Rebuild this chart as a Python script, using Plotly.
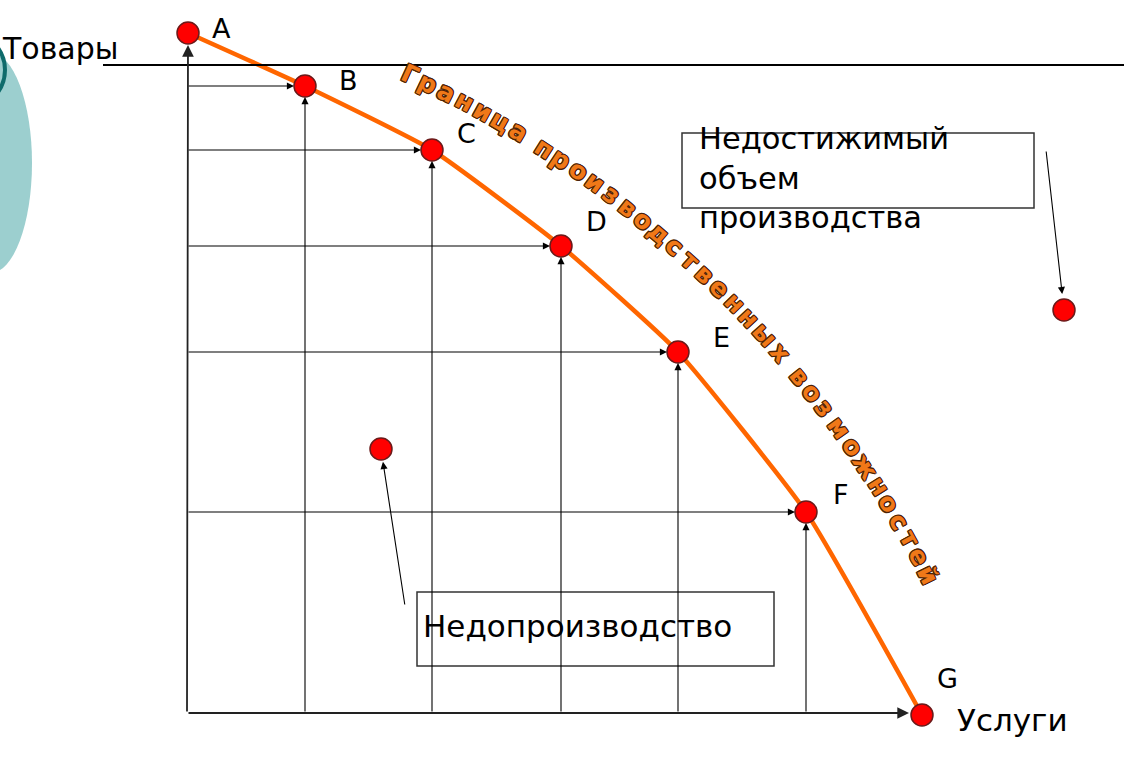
import numpy as np
import plotly.graph_objects as go

# ---------------- data ----------------
point_names = ["A", "B", "C", "D", "E", "F", "G"]
services = [0.1, 11.8, 24.5, 37.4, 49.1, 61.9, 73.5]     # Услуги
goods = [68.0, 62.7, 56.3, 46.7, 36.1, 20.1, -0.2]       # Товары

under_services = [19.4]   # Недопроизводство
under_goods = [26.4]
over_services = [87.7]    # Недостижимый объем производства
over_goods = [40.3]

x_label = "Услуги"
y_label = "Товары"
frontier_title = "Граница производственных возможностей"
under_label = "Недопроизводство"
over_label = "Недостижимый<br>объем<br>производства"

# ---------------- layout helpers ----------------
W, H = 1144, 768
FONT = "DejaVu Sans"


def px(xp):
    return xp / W


def py(yp):
    return 1 - yp / H


fig = go.Figure()

# frontier curve
fig.add_trace(go.Scatter(
    x=services, y=goods, mode="lines",
    line=dict(color="#FF6600", width=4.5, shape="spline", smoothing=0.45),
    hoverinfo="skip", showlegend=False))

# points
fig.add_trace(go.Scatter(
    x=services + under_services + over_services,
    y=goods + under_goods + over_goods,
    mode="markers",
    marker=dict(size=22, color="#FF0000", line=dict(color="#6B1A1A", width=1.5)),
    showlegend=False))

ann = []
arrow_style = dict(showarrow=True, arrowhead=2, arrowsize=1.3, arrowwidth=1.1,
                   arrowcolor="#000000", axref="x", ayref="y", xref="x", yref="y", text="")

# guide arrows from the axes to each point
for i in range(1, len(services) - 1):
    ann.append(dict(x=services[i], y=goods[i], ax=0, ay=goods[i], standoff=11, **arrow_style))
    ann.append(dict(x=services[i], y=goods[i], ax=services[i], ay=0, standoff=11, **arrow_style))

axis_style = dict(arrow_style)
axis_style.update(arrowwidth=1.8, arrowcolor="#222222")
ann.append(dict(x=services[0], y=goods[0], ax=0, ay=0, standoff=12, **axis_style))
ann.append(dict(x=services[-1], y=0, ax=0, ay=0, standoff=13, **axis_style))

# pointer arrows from the text boxes
ann.append(dict(x=under_services[0], y=under_goods[0], ax=21.8, ay=10.7, standoff=13, **arrow_style))
ann.append(dict(x=over_services[0], y=over_goods[0], ax=85.9, ay=56.3, standoff=16, **arrow_style))

# point letters
label_dx = [33, 43, 34, 35, 43, 35, 25]
label_dy = [5, 6, 17, 25, 15, 18, 37]
for name, xs, ys, dx, dy in zip(point_names, services, goods, label_dx, label_dy):
    ann.append(dict(x=xs, y=ys, xref="x", yref="y", text=name, showarrow=False,
                    xshift=dx, yshift=dy, font=dict(family=FONT, size=27, color="#000000")))

# axis titles
ann.append(dict(x=px(0), y=py(48), xref="paper", yref="paper", xanchor="left", yanchor="middle",
                text=y_label, showarrow=False, font=dict(family=FONT, size=30, color="#000000")))
ann.append(dict(x=px(955), y=py(720), xref="paper", yref="paper", xanchor="left", yanchor="middle",
                text=x_label, showarrow=False, font=dict(family=FONT, size=31, color="#000000")))

# box texts
ann.append(dict(x=px(421), y=py(626), xref="paper", yref="paper", xanchor="left", yanchor="middle",
                text=under_label, showarrow=False, font=dict(family=FONT, size=31, color="#000000")))
ann.append(dict(x=px(697), y=py(178), xref="paper", yref="paper", xanchor="left", yanchor="middle",
                align="left", text=over_label, showarrow=False,
                font=dict(family=FONT, size=30.5, color="#000000")))

# curved WordArt title along an arc
cx, cy, r = -42.0, 1061.0, 1085.0
th_s, th_e = np.radians(-65.4), np.radians(-26.6)
wts = np.array([0.5 if c == " " else (1.3 if c in "жмыщш" else 1.0) for c in frontier_title])
cum = np.cumsum(wts) - wts / 2
cum = (cum - cum[0]) / (cum[-1] - cum[0])
outline = "#4A2208"
shadow = ", ".join(f"{a}px {b}px 0.5px {outline}" for a in (-1, 0, 1) for b in (-1, 0, 1) if a or b)
for ch, t in zip(frontier_title, cum):
    if ch == " ":
        continue
    th = th_s + (th_e - th_s) * t
    xp = cx + r * np.cos(th)
    yp = cy + r * np.sin(th)
    ann.append(dict(x=px(xp), y=py(yp), xref="paper", yref="paper", text=ch, showarrow=False,
                    textangle=float(np.degrees(th) + 90), xanchor="center", yanchor="middle",
                    font=dict(family=FONT, size=25, color="#F07818", weight="bold", shadow=shadow)))

shapes = [
    # decorative teal circles at the slide edge
    dict(type="circle", xref="paper", yref="paper", x0=px(-51), x1=px(32), y0=py(273), y1=py(53),
         fillcolor="#9CCFCF", line=dict(width=0), layer="below"),
    dict(type="circle", xref="paper", yref="paper", x0=px(-90), x1=px(5), y0=py(112), y1=py(28),
         fillcolor="rgba(0,0,0,0)", line=dict(color="#0E6B6B", width=4), layer="below"),
    # title underline
    dict(type="line", xref="paper", yref="paper", x0=px(103), x1=px(1124), y0=py(65), y1=py(65),
         line=dict(color="#000000", width=2)),
    # text boxes
    dict(type="rect", xref="paper", yref="paper", x0=px(682), x1=px(1034), y0=py(208), y1=py(133),
         line=dict(color="#333333", width=1.5)),
    dict(type="rect", xref="paper", yref="paper", x0=px(417), x1=px(774), y0=py(666), y1=py(592),
         line=dict(color="#333333", width=1.5)),
]

fig.update_layout(
    width=W, height=H, autosize=False,
    margin=dict(l=0, r=0, t=0, b=0),
    paper_bgcolor="#FFFFFF", plot_bgcolor="#FFFFFF",
    xaxis=dict(range=[-18.7, 95.7], visible=False, fixedrange=True),
    yaxis=dict(range=[-5.5, 71.3], visible=False, fixedrange=True),
    annotations=ann, shapes=shapes, showlegend=False,
)

fig.write_html("out.html", config={"displayModeBar": False},
               post_script="document.body.style.margin='0';")
